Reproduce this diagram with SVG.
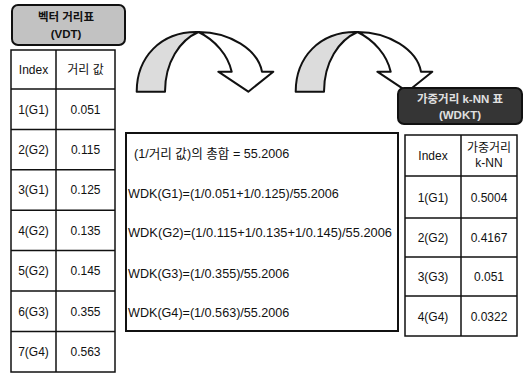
<svg xmlns="http://www.w3.org/2000/svg" width="524" height="380" viewBox="0 0 524 380">
<style>
text{font-family:"Liberation Sans","Noto Sans CJK KR",sans-serif;font-size:12px;fill:#111}
.c{text-anchor:middle}
.m{font-size:12.6px}
.cell{fill:#fff;stroke:#111;stroke-width:1.5}
.box{fill:#fff;stroke:#111;stroke-width:2}
.shade{fill:#dcdcdc;stroke:#111;stroke-width:2;stroke-linejoin:round}
.wht{fill:#fff;stroke:#111;stroke-width:2;stroke-linejoin:round}
.b1{fill:#c2c2c2;stroke:#111;stroke-width:2}
.b2{fill:#353535;stroke:#111;stroke-width:2}
.bt{font-size:11.5px;font-weight:bold}
</style>
<defs>
<g id="arrow">
<path class="shade" d="M136.7,91.7 C136.7,58 160,31 198.5,32 C180,40 165,62 165,91.7 Z"/>
<path class="wht" d="M198.5,32 C230,32 258,50 262,71.7 L273.3,71.7 L248.3,91.7 L218.3,71.7 L231.7,71.7 C228,55 215,40 198.5,32 Z"/>
</g>
</defs>
<g id="connectors">
<use href="#arrow"/>
<use href="#arrow" transform="translate(159,0)"/>
</g>
<g id="vdt-badge">
<rect class="b1" x="12" y="5" width="113" height="40" rx="6"/>
<text class="c bt" x="66" y="21">벡터 거리표</text>
<text class="c bt" x="66" y="38">(VDT)</text>
</g>
<g id="vdt-table">
<rect class="cell" x="11" y="50" width="104" height="322"/>
<line x1="56" y1="50" x2="56" y2="372" stroke="#111" stroke-width="1.5"/>
<g stroke="#111" stroke-width="1.5">
<line x1="11" y1="89" x2="115" y2="89"/>
<line x1="11" y1="129.4" x2="115" y2="129.4"/>
<line x1="11" y1="169.8" x2="115" y2="169.8"/>
<line x1="11" y1="210.2" x2="115" y2="210.2"/>
<line x1="11" y1="250.6" x2="115" y2="250.6"/>
<line x1="11" y1="291" x2="115" y2="291"/>
<line x1="11" y1="331.4" x2="115" y2="331.4"/>
</g>
<text class="c" x="33.5" y="74">Index</text>
<text class="c" x="85.5" y="74">거리 값</text>
<text class="c" x="33.5" y="113.5">1(G1)</text><text class="c" x="85.5" y="113.5">0.051</text>
<text class="c" x="33.5" y="153.9">2(G2)</text><text class="c" x="85.5" y="153.9">0.115</text>
<text class="c" x="33.5" y="194.3">3(G1)</text><text class="c" x="85.5" y="194.3">0.125</text>
<text class="c" x="33.5" y="234.7">4(G2)</text><text class="c" x="85.5" y="234.7">0.135</text>
<text class="c" x="33.5" y="275.1">5(G2)</text><text class="c" x="85.5" y="275.1">0.145</text>
<text class="c" x="33.5" y="315.5">6(G3)</text><text class="c" x="85.5" y="315.5">0.355</text>
<text class="c" x="33.5" y="355.9">7(G4)</text><text class="c" x="85.5" y="355.9">0.563</text>
</g>
<g id="calc-box">
<rect class="box" x="126" y="133" width="272" height="198"/>
<text class="m" x="134" y="158">(1/거리 값)의 총합 = 55.2006</text>
<text class="m" x="128" y="198">WDK(G1)=(1/0.051+1/0.125)/55.2006</text>
<text class="m" x="128" y="237" textLength="264" lengthAdjust="spacingAndGlyphs">WDK(G2)=(1/0.115+1/0.135+1/0.145)/55.2006</text>
<text class="m" x="128" y="278">WDK(G3)=(1/0.355)/55.2006</text>
<text class="m" x="128" y="317">WDK(G4)=(1/0.563)/55.2006</text>
</g>
<g id="wdkt-badge">
<rect class="b2" x="398" y="88" width="124" height="36" rx="6"/>
<text class="c bt" x="460" y="103" style="fill:#e0e0e0">가중거리 k-NN 표</text>
<text class="c bt" x="460" y="119" style="fill:#e0e0e0">(WDKT)</text>
</g>
<g id="wdkt-table">
<rect class="cell" x="405" y="135" width="112" height="201"/>
<line x1="461" y1="135" x2="461" y2="336" stroke="#111" stroke-width="1.5"/>
<g stroke="#111" stroke-width="1.5">
<line x1="405" y1="176" x2="517" y2="176"/>
<line x1="405" y1="218" x2="517" y2="218"/>
<line x1="405" y1="257" x2="517" y2="257"/>
<line x1="405" y1="296" x2="517" y2="296"/>
</g>
<text class="c" x="433" y="160">Index</text>
<text class="c" x="489" y="152">가중거리</text>
<text class="c" x="489" y="167">k-NN</text>
<text class="c" x="433" y="201.5">1(G1)</text><text class="c" x="489" y="201.5">0.5004</text>
<text class="c" x="433" y="242">2(G2)</text><text class="c" x="489" y="242">0.4167</text>
<text class="c" x="433" y="281">3(G3)</text><text class="c" x="489" y="281">0.051</text>
<text class="c" x="433" y="320.5">4(G4)</text><text class="c" x="489" y="320.5">0.0322</text>
</g>
</svg>
